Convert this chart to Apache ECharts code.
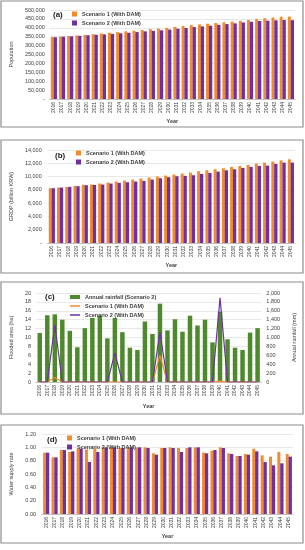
<!DOCTYPE html>
<html><head><meta charset="utf-8">
<script src="https://cdn.jsdelivr.net/npm/echarts@6/dist/echarts.min.js"></script>
<style>html,body{margin:0;padding:0;background:#fff;}#c{width:305px;height:550px;}</style>
</head><body><div id="c"></div>
<script>
const years = ['2016','2017','2018','2019','2020','2021','2022','2023','2024','2025','2026','2027','2028','2029','2030','2031','2032','2033','2034','2035','2036','2037','2038','2039','2040','2041','2042','2043','2044','2045'];
const popS1 = [348000,351000,354000,357000,360000,364000,368000,372000,376000,380000,384000,388000,392000,396000,400000,405000,410000,415000,419000,423000,427000,431000,435000,439000,444000,450000,454000,458000,462000,463000];
const popS2 = [347000,350000,352000,355000,358000,361000,363000,366000,369000,372000,376000,380000,383000,386000,390000,395000,399000,404000,408000,412000,417000,421000,425000,430000,434000,438000,440000,442000,444000,443000];
const grdpS1 = [8250,8350,8450,8600,8750,8800,8950,9100,9250,9400,9550,9700,9850,10000,10150,10300,10450,10600,10800,10950,11100,11250,11450,11600,11750,11950,12100,12250,12450,12600];
const grdpS2 = [8250,8350,8450,8550,8700,8750,8800,8950,9050,9150,9250,9350,9550,9750,9900,10050,10100,10200,10400,10550,10750,10950,11100,11300,11450,11600,11650,11900,12100,12100];
const rainfall = [1100,1500,1520,1400,1150,780,1210,1440,1490,980,1440,1120,770,720,1360,1080,1760,1160,1410,1130,1490,1270,1400,890,1580,960,770,720,1110,1210];
const floodS1 = [0,0,1.0,0,0,0,0,0,0,0,0,0,0,0,0,0,6.0,0,0,0,0,0,0,0,0.2,0,0,0,0,0];
const floodS2 = [0,0,12.8,0,0,0,0,0,0,0,6.5,0,0,0,0,0,11.2,0,0,0,0,0,0,0,18.9,0,0,0,0,0];
const wsS1 = [0.92,0.85,0.96,0.93,0.98,0.97,0.98,1.00,1.00,0.99,1.00,1.00,1.00,0.91,0.99,1.00,0.99,0.99,1.00,0.92,0.95,1.00,0.91,0.87,0.90,0.98,0.88,0.86,0.93,0.90];
const wsS2 = [0.92,0.85,0.96,0.94,0.98,0.78,0.93,1.00,1.00,0.99,1.00,1.00,0.99,0.89,0.99,0.99,0.93,1.00,1.00,0.91,0.96,0.99,0.90,0.87,0.89,0.94,0.78,0.73,0.76,0.86];

const ORANGE = '#F28A2E', PURPLE = '#7030A0', GREEN = '#4E8A2C';
const FONT = 'Liberation Sans, Arial, sans-serif';
const TXT = '#404040';
const comma = v => v === 0 ? '-' : String(v).replace(/\B(?=(\d{3})+(?!\d))/g, ',');

const grids = [
  {left:43, top:10, width:252, height:89},
  {left:47, top:150, width:248, height:93},
  {left:33, top:293, width:234, height:89},
  {left:42, top:434, width:251, height:80}
];
function xAx(i){
  return {type:'category', gridIndex:i, data:years, name:'Year', nameLocation:'middle', nameGap:i===2?21:19,
    nameTextStyle:{fontSize:5.5, fontWeight:'bold', color:TXT, fontFamily:FONT},
    axisLine:{lineStyle:{color:'#bfbfbf', width:1}}, axisTick:{show:false},
    axisLabel:{interval:0, rotate:90, fontSize:5, color:TXT, fontFamily:FONT, margin:3}};
}
function yAx(i, opts){
  return Object.assign({type:'value', gridIndex:i, nameLocation:'middle', nameRotate:90,
    nameTextStyle:{fontSize:5.5, color:TXT, fontFamily:FONT},
    axisLine:{show:false}, axisTick:{show:false},
    splitLine:{lineStyle:{color:'#d9d9d9', width:0.6}},
    axisLabel:{fontSize:5.5, color:TXT, fontFamily:FONT, margin:5}}, opts);
}
const legText = {fontSize:5.5, color:TXT, fontFamily:FONT, fontWeight:'bold'};
function leg(left, top, data, extra){
  return Object.assign({left, top, orient:'vertical', icon:'rect', itemWidth:5, itemHeight:5, itemGap:3, padding:0, data, textStyle:legText, selectedMode:false}, extra||{});
}

const option = {
  animation:false,
  textStyle:{fontFamily:FONT},
  grid:grids,
  xAxis:[xAx(0), xAx(1), xAx(2), xAx(3)],
  yAxis:[
    yAx(0,{min:0,max:500000,interval:50000,name:'Population',nameGap:31,axisLabel:{fontSize:5.5,color:TXT,fontFamily:FONT,margin:5,formatter:comma}}),
    yAx(1,{min:0,max:14000,interval:2000,name:'GRDP (billion KRW)',nameGap:29,axisLabel:{fontSize:5.5,color:TXT,fontFamily:FONT,margin:6,formatter:comma}}),
    yAx(2,{min:0,max:20,interval:2,name:'Flooded area (ha)',nameGap:16}),
    yAx(2,{min:0,max:2000,interval:200,position:'right',name:'Annual rainfall (mm)',nameGap:22,splitLine:{show:false},axisLabel:{fontSize:5.5,color:TXT,fontFamily:FONT,margin:5,formatter:v=>comma(v).replace('-','0')}}),
    yAx(3,{min:0,max:1.2,interval:0.2,name:'Water supply rate',nameGap:26,axisLabel:{fontSize:5.5,color:TXT,fontFamily:FONT,margin:6,formatter:v=>v.toFixed(2)}})
  ],
  legend:[
    leg(72, 11, ['Scenario 1 (With DAM)','Scenario 2 (With DAM)'].map(n=>({name:n}))),
    leg(76, 150, [{name:'Scenario 1 (With DAM) '},{name:'Scenario 2 (With DAM) '}]),
    leg(70, 294, [{name:'Annual rainfall (Scenario 2)', icon:'rect'},{name:'Scenario 1 (With DAM)  ', icon:'path://M0,0H10V1.5H0Z'},{name:'Scenario 2 (With DAM)  ', icon:'path://M0,0H10V1.5H0Z'}], {itemWidth:10, itemHeight:4}),
    leg(67, 435, [{name:'Scenario 1 (With DAM)   '},{name:'Scenario 2 (With DAM)   '}])
  ],
  graphic:[
    {type:'rect', shape:{x:1,y:1,width:302,height:126}, style:{fill:'none',stroke:'#8c8c8c',lineWidth:1.2}, silent:true},
    {type:'rect', shape:{x:1,y:140,width:302,height:133}, style:{fill:'none',stroke:'#8c8c8c',lineWidth:1.2}, silent:true},
    {type:'rect', shape:{x:1,y:282,width:302,height:132}, style:{fill:'none',stroke:'#8c8c8c',lineWidth:1.2}, silent:true},
    {type:'rect', shape:{x:1,y:425,width:302,height:118}, style:{fill:'none',stroke:'#8c8c8c',lineWidth:1.2}, silent:true},
    {type:'text', left:53, top:11, style:{text:'(a)', fontSize:8, fontWeight:'bold', fill:'#222', fontFamily:FONT}},
    {type:'text', left:55, top:152, style:{text:'(b)', fontSize:8, fontWeight:'bold', fill:'#222', fontFamily:FONT}},
    {type:'text', left:45, top:293, style:{text:'(c)', fontSize:8, fontWeight:'bold', fill:'#222', fontFamily:FONT}},
    {type:'text', left:47, top:436, style:{text:'(d)', fontSize:8, fontWeight:'bold', fill:'#222', fontFamily:FONT}}
  ],
  series:[
    {type:'bar', name:'Scenario 1 (With DAM)', xAxisIndex:0, yAxisIndex:0, data:popS1, barWidth:3, barGap:'-5%', itemStyle:{color:ORANGE}},
    {type:'bar', name:'Scenario 2 (With DAM)', xAxisIndex:0, yAxisIndex:0, data:popS2, barWidth:3.3, itemStyle:{color:PURPLE}},
    {type:'bar', name:'Scenario 1 (With DAM) ', xAxisIndex:1, yAxisIndex:1, data:grdpS1, barWidth:3, barGap:'-5%', itemStyle:{color:ORANGE}},
    {type:'bar', name:'Scenario 2 (With DAM) ', xAxisIndex:1, yAxisIndex:1, data:grdpS2, barWidth:3.3, itemStyle:{color:PURPLE}},
    {type:'bar', name:'Annual rainfall (Scenario 2)', xAxisIndex:2, yAxisIndex:3, data:rainfall, barWidth:4.5, itemStyle:{color:GREEN}},
    {type:'line', name:'Scenario 1 (With DAM)  ', xAxisIndex:2, yAxisIndex:2, data:floodS1, symbol:'none', lineStyle:{color:ORANGE, width:1.2}, itemStyle:{color:ORANGE}},
    {type:'line', name:'Scenario 2 (With DAM)  ', xAxisIndex:2, yAxisIndex:2, data:floodS2, symbol:'none', lineStyle:{color:PURPLE, width:1.2}, itemStyle:{color:PURPLE}},
    {type:'bar', name:'Scenario 1 (With DAM)   ', xAxisIndex:3, yAxisIndex:4, data:wsS1, barWidth:3, barGap:'-5%', itemStyle:{color:ORANGE}},
    {type:'bar', name:'Scenario 2 (With DAM)   ', xAxisIndex:3, yAxisIndex:4, data:wsS2, barWidth:3.3, itemStyle:{color:PURPLE}}
  ]
};
const chart = echarts.init(document.getElementById('c'), null, {renderer:'canvas'});
chart.setOption(option);
</script></body></html>
